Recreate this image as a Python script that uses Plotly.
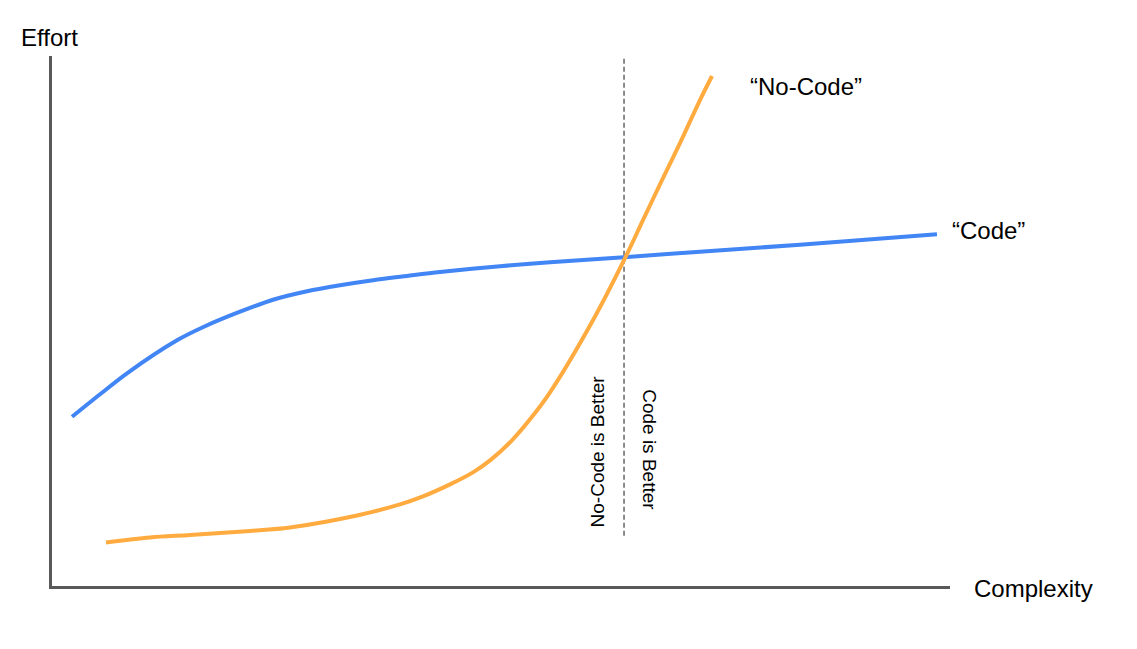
import plotly.graph_objects as go

# Data (arbitrary units: complexity 0-100, effort 0-100)
code_x = [2.23, 5.35, 8.35, 13.92, 17.04, 20.94, 24.61, 28.40, 32.07, 35.75,
          39.53, 43.21, 49.89, 55.46, 63.70, 72.16, 83.30, 98.55]
code_y = [31.92, 36.17, 40.13, 46.36, 49.01, 51.75, 54.01, 55.62, 56.75, 57.70,
          58.51, 59.26, 60.34, 61.10, 62.04, 63.08, 64.40, 66.38]

nocode_x = [6.01, 10.91, 15.37, 22.05, 26.50, 33.96, 38.75, 41.31, 44.32, 46.88, 48.78,
            51.22, 53.23, 55.46, 60.24, 63.81, 65.81, 67.93, 69.93, 72.16, 73.50]
nocode_y = [8.22, 9.16, 9.63, 10.39, 11.05, 13.31, 15.39, 16.90, 19.17, 21.44, 23.70,
            27.48, 31.44, 36.54, 50.14, 61.85, 69.03, 76.58, 83.57, 91.69, 96.22]

divider_x = [63.7, 63.7]
divider_y = [9.5, 100.0]

series_labels = ["\u201cCode\u201d", "\u201cNo-Code\u201d"]
axis_labels = ["Complexity", "Effort"]
region_labels = ["No-Code is Better", "Code is Better"]

FONT = "Liberation Sans, Arial, sans-serif"

fig = go.Figure()
fig.add_trace(go.Scatter(x=divider_x, y=divider_y, mode="lines",
                         line=dict(color="#5a5a5a", width=1.4, dash="5px,3px"),
                         hoverinfo="skip", cliponaxis=False))
fig.add_trace(go.Scatter(x=code_x, y=code_y, mode="lines", line_shape="spline",
                         line=dict(color="#4285F4", width=4, smoothing=0.9), cliponaxis=False))
fig.add_trace(go.Scatter(x=nocode_x, y=nocode_y, mode="lines", line_shape="spline",
                         line=dict(color="#FFAB40", width=4, smoothing=0.9), cliponaxis=False))

ann = []
ann.append(dict(x=-0.037, y=1.034, xref="paper", yref="paper", text=axis_labels[1],
                xanchor="left", yanchor="middle",
                font=dict(size=24, color="#000000", family=FONT)))
ann.append(dict(x=1.0245, y=-0.004, xref="paper", yref="paper", text=axis_labels[0],
                xanchor="left", yanchor="middle",
                font=dict(size=24, color="#000000", family=FONT)))
ann.append(dict(x=77.5, y=94.2, xref="x", yref="y", text=series_labels[1],
                xanchor="left", yanchor="middle",
                font=dict(size=24, color="#000000", family=FONT)))
ann.append(dict(x=100.0, y=67.1, xref="x", yref="y", text=series_labels[0],
                xanchor="left", yanchor="middle",
                font=dict(size=24, color="#000000", family=FONT)))
ann.append(dict(x=60.75, y=25.3, xref="x", yref="y", text=region_labels[0], textangle=-90,
                xanchor="center", yanchor="middle",
                font=dict(size=19, color="#000000", family=FONT)))
ann.append(dict(x=66.6, y=25.8, xref="x", yref="y", text=region_labels[1], textangle=90,
                xanchor="center", yanchor="middle",
                font=dict(size=19, color="#000000", family=FONT)))
for a in ann:
    a.update(showarrow=False)

fig.update_layout(
    width=1137, height=649,
    margin=dict(l=52, r=187, t=56, b=63),
    paper_bgcolor="white", plot_bgcolor="white",
    showlegend=False,
    annotations=ann,
    xaxis=dict(range=[0, 100], showgrid=False, zeroline=False, showticklabels=False,
               ticks="", showline=True, linecolor="#595959", linewidth=3),
    yaxis=dict(range=[0, 100], showgrid=False, zeroline=False, showticklabels=False,
               ticks="", showline=True, linecolor="#595959", linewidth=3),
)

fig.write_html("out.html")
